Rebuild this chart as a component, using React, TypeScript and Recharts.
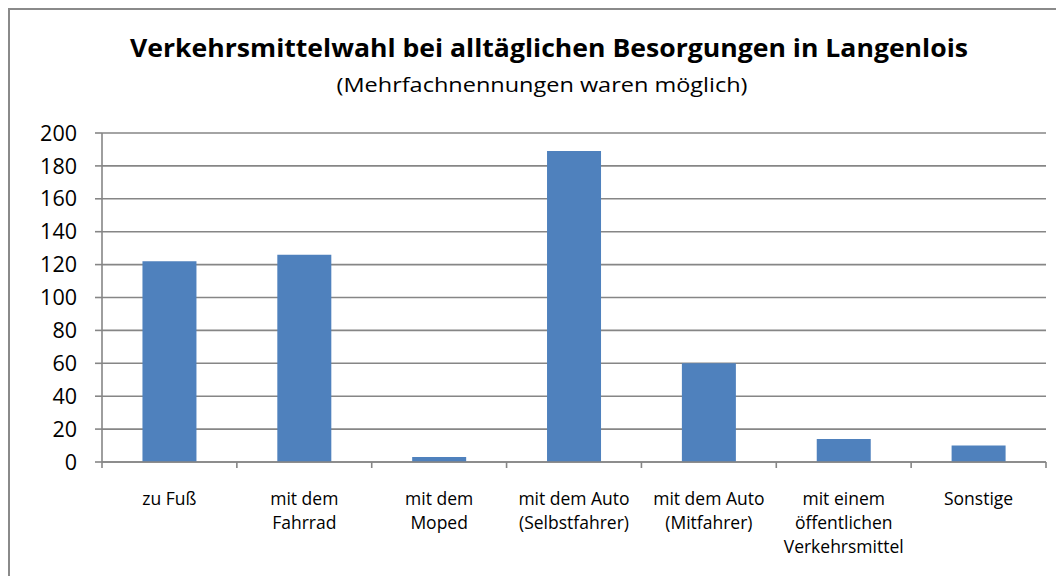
import React from "react";
import { BarChart, Bar, XAxis, YAxis, CartesianGrid } from "recharts";

const categories: string[][] = [
  ["zu Fuß"],
  ["mit dem", "Fahrrad"],
  ["mit dem", "Moped"],
  ["mit dem Auto", "(Selbstfahrer)"],
  ["mit dem Auto", "(Mitfahrer)"],
  ["mit einem", "öffentlichen", "Verkehrsmittel"],
  ["Sonstige"],
];
const values: number[] = [122, 126, 3, 189, 60, 14, 10];
const yTicks: number[] = [0, 20, 40, 60, 80, 100, 120, 140, 160, 180, 200];

const TITLE = "Verkehrsmittelwahl bei alltäglichen Besorgungen in Langenlois";
const SUBTITLE = "(Mehrfachnennungen waren möglich)";

const data = categories.map((c, i) => ({ name: c.join("\n"), value: values[i] }));

const W = 1048;
const H = 568;
const MARGIN = { top: 125, right: 10, left: 14, bottom: 14 };
const Y_W = 80;
const PLOT_W = W - MARGIN.left - MARGIN.right - Y_W;
const BAND = PLOT_W / data.length;
const GRAY = "#868686";
const FONT = "'Open Sans', sans-serif";

const XTick = (props: any) => {
  const { x, y, payload, index } = props;
  const lines: string[] = String(payload.value).split("\n");
  const left = x - BAND / 2;
  const right = x + BAND / 2;
  return (
    <g>
      <line x1={left} y1={y} x2={left} y2={y + 6} stroke={GRAY} strokeWidth={1.6} />
      {index === data.length - 1 && (
        <line x1={right} y1={y} x2={right} y2={y + 6} stroke={GRAY} strokeWidth={1.6} />
      )}
      <text x={x} y={y + 43} textAnchor="middle" fontFamily={FONT} fontSize={17.5} fill="#000">
        {lines.map((l, i) => (
          <tspan key={i} x={x} dy={i === 0 ? 0 : 24}>
            {l}
          </tspan>
        ))}
      </text>
    </g>
  );
};

export default function App() {
  return (
    <div style={{ position: "relative", width: W, height: H }}>
      <BarChart width={W} height={H} data={data} margin={MARGIN} barCategoryGap="30%">
        <CartesianGrid vertical={false} stroke={GRAY} strokeWidth={1.6} />
        <XAxis
          dataKey="name"
          interval={0}
          height={100}
          tick={<XTick />}
          tickLine={false}
          tickSize={0}
          tickMargin={0}
          axisLine={{ stroke: GRAY, strokeWidth: 1.6 }}
        />
        <YAxis
          width={Y_W}
          domain={[0, 200]}
          ticks={yTicks}
          interval={0}
          tickSize={7}
          tickMargin={18}
          tickLine={{ stroke: GRAY, strokeWidth: 1.6 }}
          axisLine={{ stroke: GRAY, strokeWidth: 1.6 }}
          tick={{ fill: "#000", fontSize: 21.5, fontFamily: FONT }}
        />
        <Bar dataKey="value" fill="#4F81BD" isAnimationActive={false} />
      </BarChart>
      <svg
        width={W}
        height={H}
        style={{ position: "absolute", left: 0, top: 0, pointerEvents: "none", overflow: "visible" }}
      >
        <line x1={1} y1={0} x2={1} y2={H + 20} stroke="#8a8a8a" strokeWidth={2} />
        <line x1={0} y1={1} x2={W + 20} y2={1} stroke="#8a8a8a" strokeWidth={2} />
        <text
          x={541}
          y={49}
          textAnchor="middle"
          fontFamily={FONT}
          fontWeight="bold"
          fontSize={25}
          textLength={838}
          lengthAdjust="spacingAndGlyphs"
          fill="#000"
        >
          {TITLE}
        </text>
        <text
          x={534}
          y={84}
          textAnchor="middle"
          fontFamily={FONT}
          fontSize={20.5}
          textLength={411}
          lengthAdjust="spacingAndGlyphs"
          fill="#000"
        >
          {SUBTITLE}
        </text>
      </svg>
    </div>
  );
}
